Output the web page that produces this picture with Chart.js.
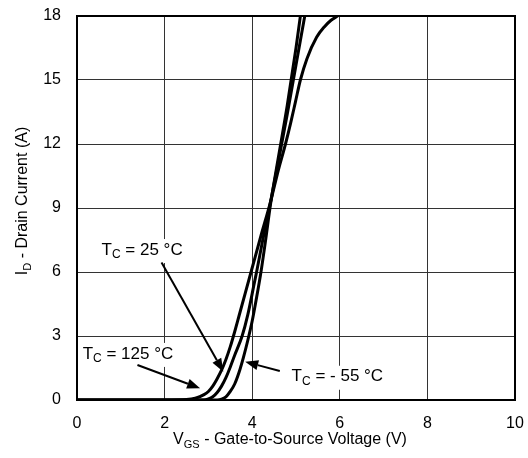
<!DOCTYPE html>
<html>
<head>
<meta charset="utf-8">
<script src="https://cdn.jsdelivr.net/npm/chart.js@4.4.1/dist/chart.umd.min.js"></script>
<style>
  html, body { margin: 0; padding: 0; background: #fff; }
  #wrap { width: 528px; height: 458px; }
</style>
</head>
<body>
<div id="wrap"><canvas id="myChart" width="528" height="458"></canvas></div>
<script>
// transfer characteristics
var vgs_125 = [0, 2.0, 2.5, 2.7, 2.9, 3.0, 3.1, 3.2, 3.3, 3.4, 3.5, 3.6, 3.7, 3.84, 4.0, 4.2, 4.42, 4.6, 4.76, 4.88, 4.99, 5.1, 5.25, 5.47, 5.65, 5.8, 5.95]
var id_125  = [0, 0, 0.02, 0.08, 0.25, 0.4, 0.65, 1.0, 1.4, 1.9, 2.5, 3.2, 3.95, 5.0, 6.2, 7.7, 9.3, 10.8, 12.0, 13.0, 14.0, 15.0, 16.0, 17.0, 17.5, 17.8, 18.0]

var vgs_25 = [0, 2.0, 2.9, 3.0, 3.1, 3.2, 3.3, 3.4, 3.5, 3.6, 3.77, 3.9, 4.05, 4.1, 4.25, 4.42, 4.6, 4.8, 5.0, 5.2]
var id_25  = [0, 0, 0, 0.05, 0.15, 0.35, 0.65, 1.05, 1.55, 2.1, 3.0, 4.0, 5.5, 6.0, 7.6, 9.3, 11.2, 13.4, 15.7, 18.0]

var vgs_m55 = [0, 2.0, 3.2, 3.3, 3.4, 3.5, 3.6, 3.7, 3.8, 3.9, 4.0, 4.1, 4.2, 4.3, 4.42, 4.6, 4.8, 5.0, 5.1]
var id_m55  = [0, 0, 0, 0.04, 0.15, 0.4, 0.75, 1.3, 2.0, 2.8, 3.7, 4.8, 6.0, 7.4, 9.2, 11.4, 13.8, 16.5, 18.0]

var xTicks = [0, 2, 4, 6, 8, 10]
var yTicks = [0, 3, 6, 9, 12, 15, 18]

// callouts: [text parts, label left/middle (V, A), arrow start (V, A), arrow tip (V, A)]
var notes = [
  [[["T", 0], ["C", 1], [" = 25 \u00b0C", 0]], [0.56, 7.03], [1.93, 6.44], [3.34, 1.33]],
  [[["T", 0], ["C", 1], [" = 125 \u00b0C", 0]], [0.13, 2.16], [1.38, 1.64], [2.81, 0.55]],
  [[["T", 0], ["C", 1], [" = - 55 \u00b0C", 0]], [4.9, 1.09], [4.63, 1.36], [3.84, 1.79]]
]

var FONT = '"Liberation Sans", Arial, sans-serif'

function pts(xs, ys) {
  var out = []
  for (var i = 0; i < xs.length; i++) out.push({x: xs[i], y: ys[i]})
  return out
}

function partsWidth(ctx, parts, size, subSize) {
  var w = 0
  parts.forEach(function(p) {
    ctx.font = (p[1] ? subSize : size) + 'px ' + FONT
    w += ctx.measureText(p[0]).width
  })
  return w
}

// draws text with subscripts, left edge at x, middle at y
function drawParts(ctx, parts, x, y, size, subSize) {
  ctx.textBaseline = 'middle'
  ctx.textAlign = 'left'
  parts.forEach(function(p) {
    ctx.font = (p[1] ? subSize : size) + 'px ' + FONT
    ctx.fillText(p[0], x, p[1] ? y + 5 : y)
    x += ctx.measureText(p[0]).width
  })
}

function arrow(ctx, x1, y1, x2, y2) {
  var a = Math.atan2(y2 - y1, x2 - x1)
  var len = 13, half = 5
  var bx = x2 - len * Math.cos(a), by = y2 - len * Math.sin(a)
  ctx.beginPath()
  ctx.moveTo(x1, y1)
  ctx.lineTo(bx, by)
  ctx.lineWidth = 2
  ctx.strokeStyle = '#000'
  ctx.stroke()
  ctx.beginPath()
  ctx.moveTo(x2, y2)
  ctx.lineTo(bx + half * Math.sin(a), by - half * Math.cos(a))
  ctx.lineTo(bx - half * Math.sin(a), by + half * Math.cos(a))
  ctx.closePath()
  ctx.fillStyle = '#000'
  ctx.fill()
}

var extras = {
  id: 'extras',
  afterDatasetsDraw: function(chart) {
    var ctx = chart.ctx
    var xs = chart.scales.x, ys = chart.scales.y
    var area = chart.chartArea
    ctx.save()
    // frame
    ctx.lineWidth = 2
    ctx.strokeStyle = '#000'
    ctx.strokeRect(area.left, area.top, area.right - area.left, area.bottom - area.top)

    notes.forEach(function(n) {
      var lx = xs.getPixelForValue(n[1][0]), ly = ys.getPixelForValue(n[1][1])
      var w = partsWidth(ctx, n[0], 17, 12)
      ctx.fillStyle = '#fff'
      ctx.fillRect(lx - 3, ly - 11, w + 6, 24)
      ctx.fillStyle = '#000'
      drawParts(ctx, n[0], lx, ly, 17, 12)
      arrow(ctx, xs.getPixelForValue(n[2][0]), ys.getPixelForValue(n[2][1]),
                 xs.getPixelForValue(n[3][0]), ys.getPixelForValue(n[3][1]))
    })

    // axis titles
    ctx.fillStyle = '#000'
    var xt = [["V", 0], ["GS", 1], [" - Gate-to-Source Voltage (V)", 0]]
    var w1 = partsWidth(ctx, xt, 16, 11)
    drawParts(ctx, xt, 290 - w1 / 2, 440, 16, 11)

    var yt = [["I", 0], ["D", 1], [" - Drain Current (A)", 0]]
    var w2 = partsWidth(ctx, yt, 16, 11)
    ctx.translate(23, 201)
    ctx.rotate(-Math.PI / 2)
    drawParts(ctx, yt, -w2 / 2, 0, 16, 11)
    ctx.restore()
  }
}

function line(data) {
  return {
    data: data,
    borderColor: '#000',
    borderWidth: 3,
    pointRadius: 0,
    fill: false,
    cubicInterpolationMode: 'monotone'
  }
}

function noPad(s) {
  s.paddingTop = 0
  s.paddingBottom = 0
  s.paddingLeft = 0
  s.paddingRight = 0
}

var ctx = document.getElementById('myChart').getContext('2d')
var chart = new Chart(ctx, {
  type: 'line',
  data: {
    datasets: [
      line(pts(vgs_125, id_125)),
      line(pts(vgs_25, id_25)),
      line(pts(vgs_m55, id_m55))
    ]
  },
  options: {
    responsive: false,
    animation: false,
    events: [],
    layout: { padding: { left: 0, top: 16, right: 13, bottom: 0 } },
    plugins: { legend: { display: false }, tooltip: { enabled: false } },
    scales: {
      x: {
        type: 'linear',
        min: 0, max: 10,
        afterFit: function(s) { s.height = 58; noPad(s) },
        afterBuildTicks: function(s) { s.ticks = xTicks.map(function(v) { return {value: v} }) },
        grid: { color: '#333', lineWidth: 1, drawTicks: false },
        border: { display: false },
        ticks: { color: '#000', padding: 14, font: { family: FONT, size: 16 } }
      },
      y: {
        type: 'linear',
        min: 0, max: 18,
        afterFit: function(s) { s.width = 77; noPad(s) },
        afterBuildTicks: function(s) { s.ticks = yTicks.map(function(v) { return {value: v} }) },
        grid: { color: '#333', lineWidth: 1, drawTicks: false },
        border: { display: false },
        ticks: { color: '#000', padding: 16, font: { family: FONT, size: 16 } }
      }
    }
  },
  plugins: [extras]
})
</script>
</body>
</html>
